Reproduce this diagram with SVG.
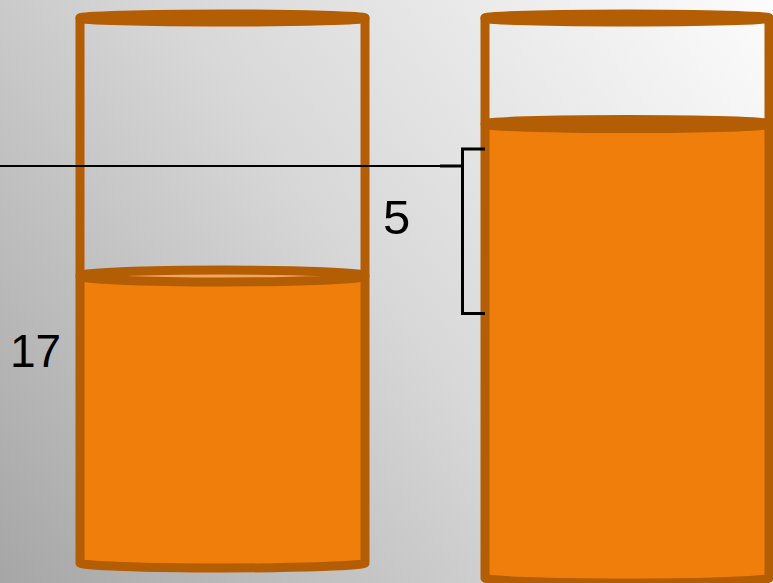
<svg xmlns="http://www.w3.org/2000/svg" width="773" height="583" viewBox="0 0 773 583">
  <defs>
    <linearGradient id="bg" gradientUnits="userSpaceOnUse" x1="0" y1="583" x2="773" y2="0">
      <stop offset="0" stop-color="#a6a6a6"/>
      <stop offset="0.5" stop-color="#d8d8d8"/>
      <stop offset="1" stop-color="#fcfcfc"/>
    </linearGradient>
  </defs>
  <style>
    .wall { fill: none; stroke: #b35d04; stroke-width: 9; stroke-linejoin: round; stroke-linecap: round; }
    .liquid { fill: #ef7f0a; stroke: none; }
    .surface { fill: #f4a660; stroke: #b35d04; stroke-width: 9; }
    .rim { fill: none; stroke: #b35d04; stroke-width: 9; }
    .label { font-family: "Liberation Sans", Arial, sans-serif; fill: #000; }
    .bracket { fill: none; stroke: #000; stroke-width: 3; }
  </style>
  <rect x="0" y="0" width="773" height="583" fill="url(#bg)"/>

  <g id="cylinder-left">
    <path class="liquid" d="M80,276 L80,563 A142.5,5 0 0 0 365,563 L365,276 Z"/>
    <ellipse class="surface" cx="222.5" cy="276" rx="142.5" ry="6"/>
    <path class="wall" d="M80,18 L80,563 A142.5,5 0 0 0 365,563 L365,18"/>
    <ellipse class="rim" cx="222.5" cy="18" rx="142.5" ry="4"/>
  </g>

  <g id="cylinder-right">
    <path class="liquid" d="M485,124 L485,578 A142,5 0 0 0 769,578 L769,124 Z"/>
    <ellipse class="surface" cx="627" cy="124" rx="142" ry="4.5" style="fill:#d9782a"/>
    <path class="wall" d="M485,18 L485,578 A142,5 0 0 0 769,578 L769,18"/>
    <ellipse class="rim" cx="627" cy="18" rx="142" ry="4"/>
  </g>

  <g id="connectors">
    <line x1="0" y1="166" x2="442" y2="166" stroke="#000" stroke-width="2"/>
    <line x1="440" y1="166" x2="463" y2="166" stroke="#000" stroke-width="3"/>
    <path class="bracket" d="M485,149 L462.5,149 L462.5,313.5 L485,313.5"/>
  </g>

  <g id="label-5">
    <text class="label" x="383" y="234" font-size="49">5</text>
  </g>
  <g id="label-17">
    <text class="label" x="10" y="367" font-size="46">17</text>
  </g>
</svg>
